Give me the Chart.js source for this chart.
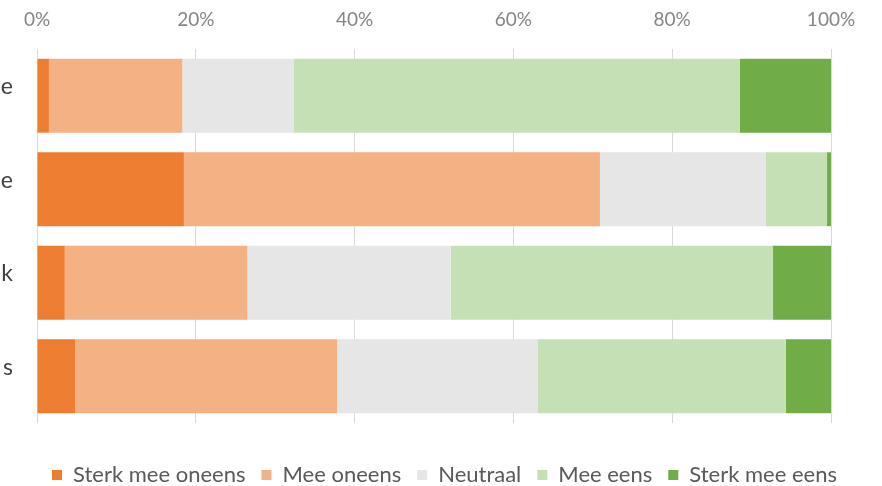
<!DOCTYPE html>
<html>
<head>
<meta charset="utf-8">
<script src="https://cdn.jsdelivr.net/npm/chart.js@4/dist/chart.umd.min.js"></script>
<style>
html,body{margin:0;padding:0;background:#fff;}
#wrap{width:882px;height:486px;}
</style>
</head>
<body>
<div id="wrap"><canvas id="c" width="882" height="486"></canvas></div>
<script>
const categories = ["e", "e", "k", "s"];
const sterkMeeOneens = [1.5, 18.5, 3.5, 4.8];
const meeOneens = [16.8, 52.4, 23.0, 33.0];
const neutraal = [14.0, 20.9, 25.6, 25.3];
const meeEens = [56.2, 7.7, 40.6, 31.2];
const sterkMeeEens = [11.5, 0.5, 7.3, 5.7];
const seriesNames = ["Sterk mee oneens", "Mee oneens", "Neutraal", "Mee eens", "Sterk mee eens"];
const xTicks = [0, 20, 40, 60, 80, 100];

const colors = ["#ED7D31", "#F4B183", "#E7E6E6", "#C5E0B4", "#70AD47"];
const seriesData = [sterkMeeOneens, meeOneens, neutraal, meeEens, sterkMeeEens];

const FONT = "Lato, 'Open Sans', sans-serif";

new Chart(document.getElementById('c'), {
  type: 'bar',
  data: {
    labels: categories,
    datasets: seriesNames.map((n, i) => ({
      label: n,
      data: seriesData[i],
      backgroundColor: colors[i],
      borderWidth: 0,
      barPercentage: 0.79,
      categoryPercentage: 1.0
    }))
  },
  options: {
    indexAxis: 'y',
    responsive: false,
    animation: false,
    devicePixelRatio: 1,
    layout: { padding: { left: 0, right: -7, top: 0, bottom: 0 } },
    scales: {
      x: {
        position: 'top',
        stacked: true,
        min: 0, max: 100,
        afterBuildTicks: (s) => { s.ticks = xTicks.map(v => ({ value: v })); },
        afterFit: (s) => { s.height = 49; },
        ticks: {
          callback: (v) => v + '%',
          color: '#858585',
          font: { family: FONT, size: 19 },
          padding: 18
        },
        grid: { color: '#d9d9d9', drawTicks: false, lineWidth: 1 },
        border: { display: false }
      },
      y: {
        stacked: true,
        afterFit: (s) => { s.width = 37; },
        ticks: {
          color: '#404040',
          font: { family: FONT, size: 23 },
          padding: 24,
          labelOffset: -9
        },
        grid: { display: false, drawTicks: false },
        border: { display: false }
      },
      yRight: {
        type: 'category',
        axis: 'y',
        position: 'right',
        afterFit: (s) => { s.width = 58; },
        ticks: { display: false },
        grid: { display: false, drawTicks: false },
        border: { display: false }
      }
    },
    plugins: {
      legend: {
        position: 'bottom',
        maxHeight: 63,
        title: {
          display: true,
          text: ' ',
          font: { size: 1, lineHeight: 1 },
          padding: { top: 24, bottom: 0 }
        },
        labels: {
          boxWidth: 10,
          boxHeight: 10,
          color: '#595959',
          font: { family: FONT, size: 22 },
          padding: 16
        }
      },
      tooltip: { enabled: false }
    }
  }
});
</script>
</body>
</html>
